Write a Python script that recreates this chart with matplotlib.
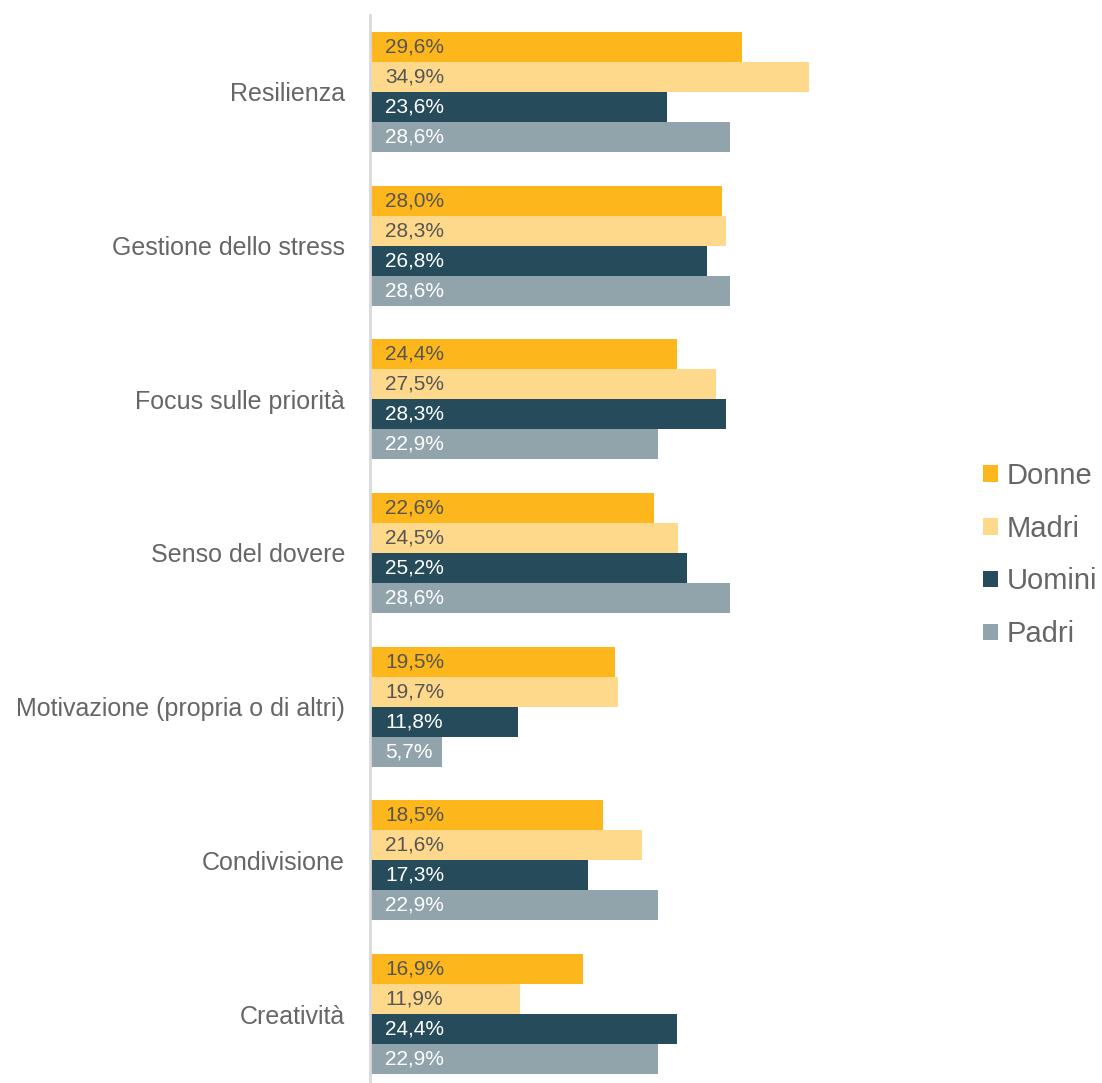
import matplotlib.pyplot as plt
from matplotlib.patches import Patch
import numpy as np

plt.rcParams["font.family"] = ["Liberation Sans", "DejaVu Sans"]

# ── Data ────────────────────────────────────────────────────────────────
categories = [
    "Resilienza",
    "Gestione dello stress",
    "Focus sulle priorità",
    "Senso del dovere",
    "Motivazione (propria o di altri)",
    "Condivisione",
    "Creatività",
]
series_names = ["Donne", "Madri", "Uomini", "Padri"]
donne = [29.6, 28.0, 24.4, 22.6, 19.5, 18.5, 16.9]
madri = [34.9, 28.3, 27.5, 24.5, 19.7, 21.6, 11.9]
uomini = [23.6, 26.8, 28.3, 25.2, 11.8, 17.3, 24.4]
padri = [28.6, 28.6, 22.9, 28.6, 5.7, 22.9, 22.9]

COLORS = ["#FDB71C", "#FED98B", "#264C5B", "#91A4AB"]
LABEL_COLORS = ["#555555", "#555555", "white", "white"]
TEXT_GREY = "#666666"

# ── Plot ────────────────────────────────────────────────────────────────
fig = plt.figure(figsize=(11.02, 10.83), dpi=100)
ax = fig.add_axes([370 / 1102, 0, 590 / 1102, 1068 / 1083])

bar_h = 0.195
y = np.arange(len(categories))
for i, (vals, color, lcol) in enumerate(
        zip([donne, madri, uomini, padri], COLORS, LABEL_COLORS)):
    pos = y - 1.5 * bar_h + i * bar_h
    ax.barh(pos, vals, height=bar_h, color=color, linewidth=0)
    for p, v in zip(pos, vals):
        ax.text(1.2, p, f"{v:.1f}%".replace(".", ","), va="center",
                ha="left", fontsize=15, color=lcol)

ax.set_xlim(0, 590 / 12.58)
ax.set_ylim(6.448, -0.5)
ax.set_yticks(y)
ax.set_yticklabels(categories, fontsize=18, color=TEXT_GREY)
ax.tick_params(axis="y", length=0, pad=18)
ax.set_xticks([])
for side in ["top", "right", "bottom"]:
    ax.spines[side].set_visible(False)
ax.spines["left"].set_color("#d9d9d9")
ax.spines["left"].set_linewidth(2)

handles = [Patch(facecolor=c, edgecolor="none") for c in COLORS]
leg = fig.legend(handles, series_names, loc="center left",
                 bbox_to_anchor=(983 / 1102, 1 - 555 / 1083), frameon=False,
                 fontsize=21, handlelength=0.5, handleheight=0.5,
                 handletextpad=0.3, labelspacing=0.85, borderpad=0,
                 borderaxespad=0)
for t in leg.get_texts():
    t.set_color(TEXT_GREY)

fig.savefig("out.png", dpi=100)
